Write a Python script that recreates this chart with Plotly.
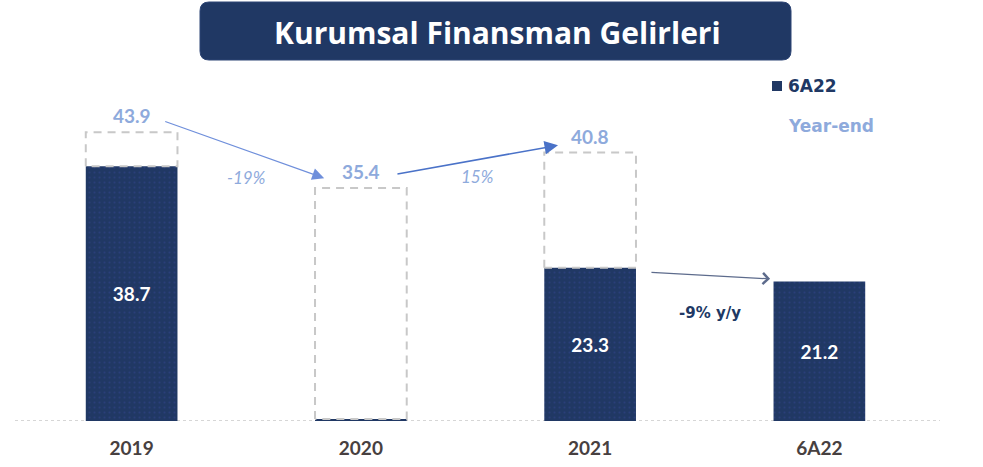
import plotly.graph_objects as go

# ---------------- data ----------------
categories = ["2019", "2020", "2021", "6A22"]
half_year = [38.7, 0.3, 23.3, 21.2]          # solid bars (first-half results)
half_year_labels = ["38.7", "", "23.3", "21.2"]
year_end = [43.9, 35.4, 40.8, None]          # dashed outlines (full-year)
year_end_labels = ["43.9", "35.4", "40.8", ""]
growth_labels = ["-19%", "15%", "-9% y/y"]
title_text = "Kurumsal Finansman Gelirleri"
legend_solid = "6A22"
legend_dashed = "Year-end"

NAVY = "#203864"
LIGHT = "#8eaadc"
DASH = "#c8c8c8"
BAR_W = 0.40

W, H = 983, 467
ML, MR, MT, MB = 17, 49, 70, 46
PW, PH = W - ML - MR, H - MT - MB


def xp(px):
    return (px - ML) / PW


def yp(py):
    return (H - MB - py) / PH


xs = list(range(len(categories)))
fig = go.Figure()

# dashed year-end outlines (from top of solid bar up to year-end value)
for i, (s, ye) in enumerate(zip(half_year, year_end)):
    if ye is None:
        continue
    x0, x1 = i - BAR_W / 2, i + BAR_W / 2
    fig.add_trace(go.Scatter(
        x=[x0, x0, x1, x1, x0], y=[s, ye, ye, s, s],
        mode="lines", line=dict(color=DASH, width=2, dash="8px,6px"),
        hoverinfo="skip", showlegend=False))

# solid bars
fig.add_trace(go.Bar(
    x=xs, y=half_year, width=BAR_W,
    marker=dict(color=NAVY, line=dict(width=0),
                pattern=dict(shape=".", fgcolor="#34438f", bgcolor=NAVY,
                             size=5, solidity=0.12)),
    text=half_year_labels, textposition="inside", insidetextanchor="middle",
    textfont=dict(family="Lato", size=19, color="white"),
    texttemplate="<b>%{text}</b>", showlegend=False, hoverinfo="skip"))

# year-end value labels
for i, (ye, lab) in enumerate(zip(year_end, year_end_labels)):
    if ye is None:
        continue
    fig.add_annotation(x=i, y=ye, text=f"<b>{lab}</b>", showarrow=False,
                       xanchor="center", yanchor="bottom", yshift=3,
                       font=dict(family="Lato", size=19, color=LIGHT))

# growth arrows
fig.add_annotation(x=1 - 0.16, y=year_end[1] + 1.5, ax=0 + 0.14, ay=year_end[0] + 1.7,
                   xref="x", yref="y", axref="x", ayref="y", text="",
                   showarrow=True, arrowhead=2, arrowsize=2, arrowwidth=1.2,
                   arrowcolor="#6f8fdb", standoff=0)
fig.add_annotation(x=2 - 0.14, y=year_end[2] + 1.1, ax=1 + 0.153, ay=year_end[1] + 2.1,
                   xref="x", yref="y", axref="x", ayref="y", text="",
                   showarrow=True, arrowhead=2, arrowsize=1.8, arrowwidth=1.5,
                   arrowcolor="#4a72c8", standoff=0)
fig.add_annotation(x=3 - 0.215, y=half_year[3] + 0.4, ax=2 + 0.261, ay=half_year[2] - 0.7,
                   xref="x", yref="y", axref="x", ayref="y", text="",
                   showarrow=True, arrowhead=4, arrowsize=1.8, arrowwidth=1.2,
                   arrowcolor="#5d6b8c", standoff=0)


def txt(px, py, text, font, xanchor="center"):
    fig.add_annotation(x=xp(px), y=yp(py), xref="paper", yref="paper",
                       xanchor=xanchor, yanchor="middle", text=text,
                       showarrow=False, font=font)


# growth labels
txt(246, 177, f"<i>{growth_labels[0]}</i>", dict(family="Lato", size=17, color=LIGHT))
txt(478, 176, f"<i>{growth_labels[1]}</i>", dict(family="Lato", size=17, color=LIGHT))
txt(710, 313, f"<b>{growth_labels[2]}</b>", dict(family="DejaVu Sans", size=15, color=NAVY))

# legend
fig.add_shape(type="rect", xref="paper", yref="paper",
              x0=xp(772), x1=xp(782), y0=yp(91), y1=yp(81),
              fillcolor=NAVY, line=dict(width=0))
txt(786, 86, f"<b>{legend_solid}</b>", dict(family="DejaVu Sans", size=17, color=NAVY), "left")
txt(786, 126, f"<b>{legend_dashed}</b>", dict(family="DejaVu Sans", size=17, color=LIGHT), "left")

# title box (rounded)
bx0, bx1, by0, by1, r = 200, 791, 2, 60, 9
path = (f"M {xp(bx0 + r)},{yp(by0)} L {xp(bx1 - r)},{yp(by0)} "
        f"Q {xp(bx1)},{yp(by0)} {xp(bx1)},{yp(by0 + r)} "
        f"L {xp(bx1)},{yp(by1 - r)} Q {xp(bx1)},{yp(by1)} {xp(bx1 - r)},{yp(by1)} "
        f"L {xp(bx0 + r)},{yp(by1)} Q {xp(bx0)},{yp(by1)} {xp(bx0)},{yp(by1 - r)} "
        f"L {xp(bx0)},{yp(by0 + r)} Q {xp(bx0)},{yp(by0)} {xp(bx0 + r)},{yp(by0)} Z")
fig.add_shape(type="path", path=path, xref="paper", yref="paper",
              fillcolor=NAVY, line=dict(color="#2c4474", width=1), layer="above")
txt(497, 32, f"<b>{title_text}</b>", dict(family="Open Sans", size=30, color="white"))

# baseline (dotted)
fig.add_shape(type="line", xref="paper", yref="y", x0=xp(15), x1=xp(940),
              y0=0, y1=0, line=dict(color="#c9c9c9", width=1.5, dash="dot"),
              layer="below")

fig.update_layout(
    width=W, height=H, margin=dict(l=ML, r=MR, t=MT, b=MB, autoexpand=False),
    paper_bgcolor="white", plot_bgcolor="white", showlegend=False,
    xaxis=dict(range=[-0.5, 3.5], tickvals=xs, ticktext=[f"<b>{c}</b>" for c in categories],
               showgrid=False, zeroline=False, showline=False, ticks="",
               ticklabelstandoff=14, automargin=False,
               tickfont=dict(family="Lato", size=19, color="#474040")),
    yaxis=dict(range=[0, PH / 6.58], visible=False, showgrid=False, zeroline=False,
               automargin=False),
)

fig.write_html("out.html", config={"displayModeBar": False},
               post_script="document.body.style.margin='0px';document.body.style.padding='0px';")
